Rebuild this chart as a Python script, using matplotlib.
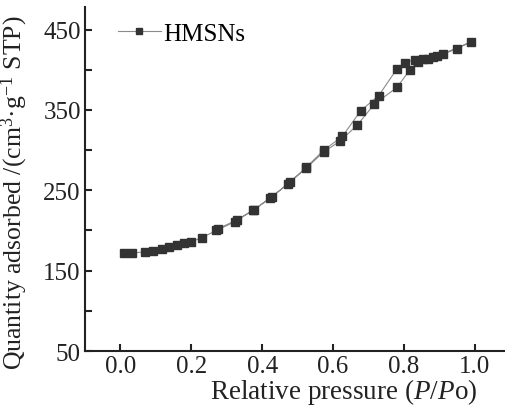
import matplotlib
matplotlib.use("Agg")
import matplotlib.pyplot as plt
from matplotlib.ticker import FormatStrFormatter

plt.rcParams['font.family'] = 'Liberation Serif'
plt.rcParams['mathtext.fontset'] = 'custom'
plt.rcParams['mathtext.rm'] = 'Liberation Serif'
plt.rcParams['mathtext.it'] = 'Liberation Serif:italic'

# adsorption branch (increasing P/Po)
p_ads = [0.011, 0.034, 0.070, 0.091, 0.116, 0.136, 0.160, 0.180, 0.200, 0.229,
         0.271, 0.323, 0.373, 0.422, 0.473, 0.525, 0.574, 0.619, 0.668, 0.716,
         0.780, 0.817, 0.841, 0.869, 0.893, 0.949, 0.990]
q_ads = [172, 172, 173.5, 175, 176.5, 179, 181.5, 184, 186, 191,
         200, 211, 225, 240, 258, 278, 298, 311, 331, 357,
         378, 400, 410, 414, 416.7, 426, 435]

# desorption branch (decreasing P/Po)
p_des = [0.909, 0.883, 0.855, 0.831, 0.803, 0.780, 0.729, 0.678, 0.626, 0.574,
         0.525, 0.478, 0.427, 0.378, 0.328, 0.275]
q_des = [419.6, 415.8, 413, 412.5, 409, 401, 368, 349, 317, 300,
         279, 260, 242, 226, 213, 202]

y_major = [50, 150, 250, 350, 450]
y_minor = [100, 200, 300, 400]
x_ticks = [0.0, 0.2, 0.4, 0.6, 0.8, 1.0]

p = p_ads + p_des
q = q_ads + q_des

fig = plt.figure(figsize=(5.06, 4.06), dpi=100)
ax = fig.add_axes([0.168, 0.133, 0.832, 0.847])

ax.plot(p, q, color='#8a8a8a', linewidth=0.8, marker='s', markersize=5.5,
        markerfacecolor='#333333', markeredgecolor='#333333', label='HMSNs')

ax.set_xlim(-0.1, 1.088)
ax.set_ylim(50, 478)
ax.set_xticks(x_ticks)
ax.set_yticks(y_major)
ax.set_yticks(y_minor, minor=True)
ax.xaxis.set_major_formatter(FormatStrFormatter('%.1f'))

for side in ['top', 'right']:
    ax.spines[side].set_visible(False)
for side in ['left', 'bottom']:
    ax.spines[side].set_linewidth(1.5)
    ax.spines[side].set_color('#222222')

ax.tick_params(axis='both', which='both', direction='in', length=5, width=1.5,
               labelsize=18, colors='#222222')
ax.tick_params(axis='x', pad=3)
ax.tick_params(axis='y', pad=3)

ax.set_xlabel('Relative pressure ($\\it{P}$/$\\it{P}$o)', fontsize=19.5, color='#222222')
ax.xaxis.set_label_coords(0.614, -0.073)
ax.set_ylabel('Quantity adsorbed /(cm$^{3}$·g$^{-1}$ STP)', fontsize=18.5, color='#222222')
ax.yaxis.set_label_coords(-0.13, 0.462)

ax.legend(loc='upper left', frameon=False, fontsize=18, handlelength=1.7,
          handletextpad=0.1, markerscale=0.75, borderaxespad=0.0,
          bbox_to_anchor=(0.055, 0.985))

fig.savefig('out.png', dpi=100)
